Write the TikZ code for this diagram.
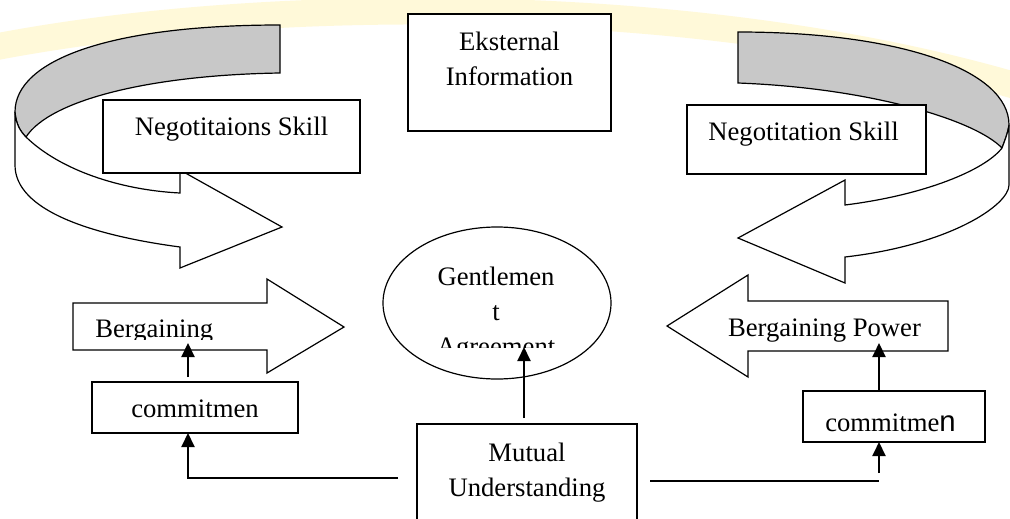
\documentclass[tikz,border=0pt]{standalone}
\usepackage{fontspec}
\setmainfont{Liberation Serif}
\newfontfamily\arialf{Liberation Sans}
\usetikzlibrary{arrows.meta,shapes.geometric}
\definecolor{ribbongray}{RGB}{200,200,200}
\definecolor{swooshyellow}{RGB}{255,240,160}
\tikzset{
  shp/.style={draw=black, line width=0.9pt, fill=white, line join=miter},
  frame/.style={draw=black, line width=0.9pt, fill=white, inner sep=0pt, outer sep=0pt},
  ellframe/.style={ellipse, draw=black, line width=0.9pt, fill=white, inner sep=0pt, outer sep=0pt},
  txt/.style={font=\fontsize{20}{26.25}\selectfont, inner sep=0pt, anchor=base, align=center},
  conn/.style={line width=1.5pt, -{Triangle[length=10.5pt,width=9.75pt]}},
  plainline/.style={line width=1.5pt},
  swoosh/.style={draw=swooshyellow, line width=20pt, opacity=0.4, line cap=round},
}
\begin{document}
\begin{tikzpicture}[x=0.75pt,y=-0.75pt]
\useasboundingbox (0,0) rectangle (1010,518);
\clip (0,0) rectangle (1010,518);
\fill[white] (0,0) rectangle (1010,518);
% faint background swoosh
\draw[swoosh] (-20,50) .. controls (250,-5) and (700,-10) .. (1030,90);
% left curved arrow
\filldraw[shp, fill=ribbongray] (280,25) -- (280,73) .. controls (150,75) and (50,100) .. (26,137)
  .. controls (20,131) and (16,124) .. (15,112) .. controls (15,60) and (110,25) .. (280,25) -- cycle;
\filldraw[shp] (26,137) .. controls (60,170) and (120,190) .. (180,193) -- (180,170) -- (282,227)
  -- (180,268) -- (180,247) .. controls (90,235) and (15,210) .. (15,165) -- (15,112)
  .. controls (16,124) and (20,131) .. (26,137) -- cycle;
% right curved arrow
\filldraw[shp, fill=ribbongray] (738,32) -- (738,83) .. controls (870,88) and (975,120) .. (1002,148)
  .. controls (1005,140) and (1008,132) .. (1009,125) .. controls (1009,70) and (900,32) .. (738,32) -- cycle;
\filldraw[shp] (1002,148) .. controls (985,170) and (925,195) .. (845,205) -- (845,180) -- (738,238)
  -- (845,283) -- (845,257) .. controls (950,245) and (1009,205) .. (1009,185) -- (1009,125)
  .. controls (1008,132) and (1005,140) .. (1002,148) -- cycle;
% boxes
\node[frame, minimum width=152.25pt, minimum height=87.75pt] (ek) at (509.5,72.5) {};
\node[frame, minimum width=192.75pt, minimum height=54.75pt] (nl) at (231.5,136.5) {};
\node[frame, minimum width=179.25pt, minimum height=51.75pt] (nr) at (806.5,139.5) {};
\node[txt] (ekt) at (509.5,85) {Eksternal\\Information};
\node[txt] (nlt) at (231.5,135) {Negotitaions Skill};
\node[txt] (nrt) at (803.5,140) {Negotitation Skill};
% bargaining arrows
\filldraw[shp] (73,303) -- (267,303) -- (267,279) -- (344,327) -- (267,373) -- (267,350) -- (73,350) -- cycle;
\filldraw[shp] (948,301) -- (748,301) -- (748,275) -- (667,326) -- (748,377) -- (748,351) -- (948,351) -- cycle;
\begin{scope}
  \clip (80,290) rectangle (260,339.5);
  \node[txt, anchor=base west] (blt) at (95,337) {Bergaining};
\end{scope}
\node[txt] (brt) at (824.5,336) {Bergaining Power};
% commitment boxes
\node[frame, minimum width=154.5pt, minimum height=38.25pt] (cl) at (195,407.5) {};
\node[frame, minimum width=136.5pt, minimum height=38.25pt] (cr) at (894,416.5) {};
\node[txt] (clt) at (195,417) {commitmen};
\node[txt, anchor=base west] (crt) at (825,431) {commitme{\arialf\fontsize{22}{26}\selectfont n}};
% ellipse
\node[ellframe, minimum width=171pt, minimum height=114pt] (ge) at (497,303) {};
\begin{scope}
  \clip (380,230) rectangle (615,347);
  \node[txt] (get) at (496,355) {Gentlemen\\t\\Agreement};
\end{scope}
% mutual understanding
\node[frame, minimum width=165pt, minimum height=83.25pt] (mu) at (527,479.5) {};
\node[txt] (mut) at (527,496) {Mutual\\Understanding};
% connectors
\coordinate (ea) at (524,347);
\coordinate (eb) at (524,418);
\draw[conn] (eb) -- (ea);
\coordinate (ba) at (188,343);
\draw[conn] (ba |- cl.north) ++(0,-5) -- (ba);
\coordinate (la) at (398,478);
\coordinate (lb) at (188,478);
\draw[conn] (la) -- (lb) -- (lb |- cl.south);
\coordinate (ra) at (879,343);
\draw[conn] (ra |- cr.north) -- (ra);
\coordinate (rl) at (650,481);
\coordinate (rm) at (879,481);
\draw[plainline] (rl) -- (rm);
\coordinate (rb) at (879,473);
\draw[conn] (rb) -- (rb |- cr.south);
\end{tikzpicture}
\end{document}
